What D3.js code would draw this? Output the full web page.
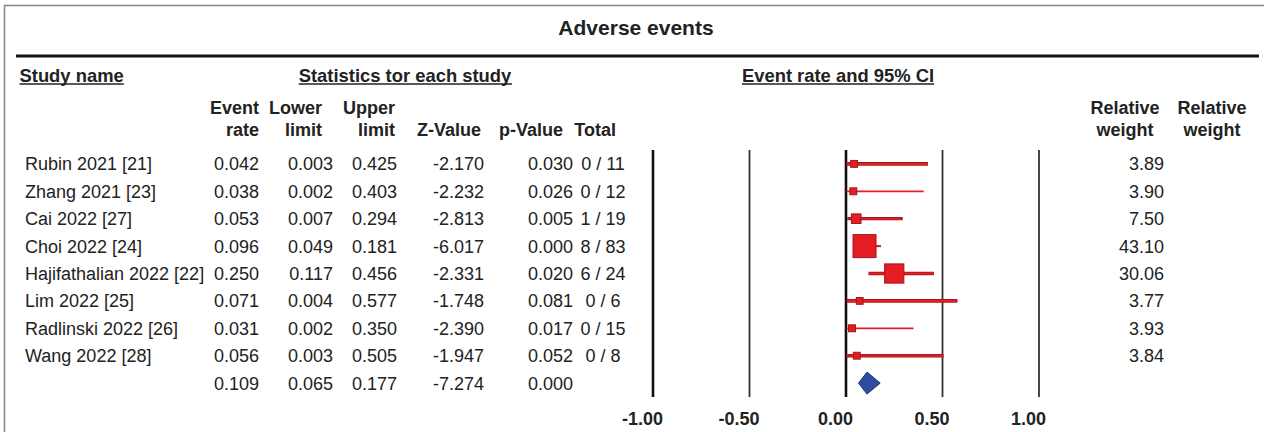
<!DOCTYPE html>
<html>
<head>
<meta charset="utf-8">
<script src="https://cdn.jsdelivr.net/npm/d3@7"></script>
<style>
  html, body { margin: 0; padding: 0; background: #fff; }
  svg { display: block; font-family: "Liberation Sans", Arial, Helvetica, sans-serif; }
</style>
</head>
<body>
<svg id="chart" width="1264" height="432"></svg>
<script>
// ---------- data ----------
const title = "Adverse events";
const studies = ["Rubin 2021 [21]", "Zhang 2021 [23]", "Cai 2022 [27]", "Choi 2022 [24]",
  "Hajifathalian 2022 [22]", "Lim 2022 [25]", "Radlinski 2022 [26]", "Wang 2022 [28]"];
const eventRate = [0.042, 0.038, 0.053, 0.096, 0.250, 0.071, 0.031, 0.056];
const lowerLimit = [0.003, 0.002, 0.007, 0.049, 0.117, 0.004, 0.002, 0.003];
const upperLimit = [0.425, 0.403, 0.294, 0.181, 0.456, 0.577, 0.350, 0.505];
const zValue = [-2.170, -2.232, -2.813, -6.017, -2.331, -1.748, -2.390, -1.947];
const pValue = [0.030, 0.026, 0.005, 0.000, 0.020, 0.081, 0.017, 0.052];
const totals = ["0 / 11", "0 / 12", "1 / 19", "8 / 83", "6 / 24", "0 / 6", "0 / 15", "0 / 8"];
const relWeight = [3.89, 3.90, 7.50, 43.10, 30.06, 3.77, 3.93, 3.84];
// pooled (summary) row: event rate, lower, upper, Z, p
const pooled = [0.109, 0.065, 0.177, -7.274, 0.000];
const axisTicks = [-1.00, -0.50, 0.00, 0.50, 1.00];
const colHeadTop = ["Event", "Lower", "Upper", "", "", ""];
const colHeadBottom = ["rate", "limit", "limit", "Z-Value", "p-Value", "Total"];

// ---------- styles / layout ----------
const ciWidth = [3.6, 1.8, 3.2, 2.2, 3.6, 3.6, 1.8, 3.6];
const RED = "#e41d24", DARKRED = "#a3161b", BLUE = "#2f4d9f", DARKBLUE = "#1d3170";
const INK = "#222";

const loc = d3.formatLocale({decimal: ".", thousands: ",", grouping: [3], currency: ["", ""], minus: "-"});
const f3 = loc.format(".3f"), f2 = loc.format(".2f");

const svg = d3.select("#chart");

// frame
svg.append("rect").attr("x", 4.5).attr("y", 5.5).attr("width", 1300).attr("height", 500)
  .attr("fill", "none").attr("stroke", "#8a8a8a").attr("stroke-width", 1.6);

// title
svg.append("text").attr("x", 636).attr("y", 35).attr("text-anchor", "middle")
  .attr("font-weight", "bold").attr("font-size", 21).attr("fill", INK).text(title);

// thick rule
svg.append("line").attr("x1", 16).attr("x2", 1259).attr("y1", 56).attr("y2", 56)
  .attr("stroke", "#111").attr("stroke-width", 3);

// underlined section headers
function underlined(x, anchor, txt) {
  const t = svg.append("text").attr("x", x).attr("y", 81.5).attr("text-anchor", anchor)
    .attr("font-weight", "bold").attr("font-size", 18.4).attr("fill", INK).text(txt);
  const b = t.node().getBBox();
  svg.append("line").attr("x1", b.x).attr("x2", b.x + b.width).attr("y1", 84).attr("y2", 84)
    .attr("stroke", INK).attr("stroke-width", 1.6);
}
underlined(19.5, "start", "Study name");
underlined(405, "middle", "Statistics tor each study");
underlined(838, "middle", "Event rate and 95% CI");

// column positions (right edges)
const colRight = [259, 333, 397, 484, 573];
const totalCenter = 603;
const headRight = [259, 322, 395, 481, 563, 616];

colHeadTop.forEach((h, i) => {
  if (h) svg.append("text").attr("x", headRight[i]).attr("y", 114).attr("text-anchor", "end")
    .attr("font-weight", "bold").attr("font-size", 18).attr("fill", INK).text(h);
});
colHeadBottom.forEach((h, i) => {
  svg.append("text").attr("x", headRight[i]).attr("y", 135.5).attr("text-anchor", "end")
    .attr("font-weight", "bold").attr("font-size", 18).attr("fill", INK).text(h);
});
[1125, 1212].forEach(cx => {
  svg.append("text").attr("x", cx).attr("y", 114).attr("text-anchor", "middle")
    .attr("font-weight", "bold").attr("font-size", 18).attr("fill", INK).text("Relative");
  svg.append("text").attr("x", cx).attr("y", 135.5).attr("text-anchor", "middle")
    .attr("font-weight", "bold").attr("font-size", 18).attr("fill", INK).text("weight");
});

// scales
const rowIdx = d3.range(studies.length + 1);
const y = d3.scaleBand().domain(rowIdx).range([150.2, 396.8]);
const yc = i => y(i) + y.bandwidth() / 2;
const x = d3.scaleLinear().domain([-1, 1]).range([653, 1039]);
const size = d3.scaleSqrt().domain([0, d3.max(relWeight)]).range([0, 23]);

// table rows
const tbl = svg.append("g").attr("font-size", 18).attr("fill", INK);
studies.forEach((s, i) => {
  const by = yc(i) + 6.5;
  tbl.append("text").attr("x", 25).attr("y", by).text(s);
  [eventRate[i], lowerLimit[i], upperLimit[i], zValue[i], pValue[i]].forEach((v, k) => {
    tbl.append("text").attr("x", colRight[k]).attr("y", by).attr("text-anchor", "end").text(f3(v));
  });
  tbl.append("text").attr("x", totalCenter).attr("y", by).attr("text-anchor", "middle").text(totals[i]);
  tbl.append("text").attr("x", 1164).attr("y", by).attr("text-anchor", "end").text(f2(relWeight[i]));
});
pooled.forEach((v, k) => {
  tbl.append("text").attr("x", colRight[k]).attr("y", yc(studies.length) + 6.5)
    .attr("text-anchor", "end").text(f3(v));
});

// reference lines at ticks
const plot = svg.append("g");
plot.selectAll("line.ref").data(axisTicks).join("line").attr("class", "ref")
  .attr("x1", d => x(d)).attr("x2", d => x(d)).attr("y1", 150).attr("y2", 397)
  .attr("stroke", d => (d === -1 || d === 0) ? "#111" : "#333")
  .attr("stroke-width", d => (d === -1 || d === 0) ? 2.6 : 1.8);

// axis labels
const axis = d3.axisBottom(x).tickValues(axisTicks).tickSize(0).tickFormat(f2);
const ag = svg.append("g").attr("transform", "translate(0,412)").call(axis);
ag.select(".domain").remove();
ag.selectAll("text").attr("font-family", "Liberation Sans, Arial, sans-serif")
  .attr("font-size", 18).attr("font-weight", "bold").attr("fill", INK)
  .attr("dx", -11).attr("y", 0).attr("dy", 13);

// CI lines (dark edge underneath, red core on top) and weight squares
studies.forEach((s, i) => {
  const thick = ciWidth[i] > 3;
  plot.append("line").attr("x1", x(lowerLimit[i])).attr("x2", x(upperLimit[i]))
    .attr("y1", yc(i)).attr("y2", yc(i)).attr("stroke", thick ? DARKRED : RED)
    .attr("stroke-width", ciWidth[i]);
  if (thick) plot.append("line").attr("x1", x(lowerLimit[i])).attr("x2", x(upperLimit[i]))
    .attr("y1", yc(i)).attr("y2", yc(i)).attr("stroke", RED).attr("stroke-width", ciWidth[i] - 1.6);
  const w = size(relWeight[i]);
  plot.append("rect").attr("x", x(eventRate[i]) - w / 2).attr("y", yc(i) - w / 2)
    .attr("width", w).attr("height", w).attr("fill", RED)
    .attr("stroke", DARKRED).attr("stroke-width", 1);
});

// pooled diamond
const py = yc(studies.length), ph = 11;
plot.append("path")
  .attr("d", `M${x(pooled[1])},${py} L${x(pooled[0])},${py - ph} L${x(pooled[2])},${py} L${x(pooled[0])},${py + ph} Z`)
  .attr("fill", BLUE).attr("stroke", DARKBLUE).attr("stroke-width", 1);
</script>
</body>
</html>
